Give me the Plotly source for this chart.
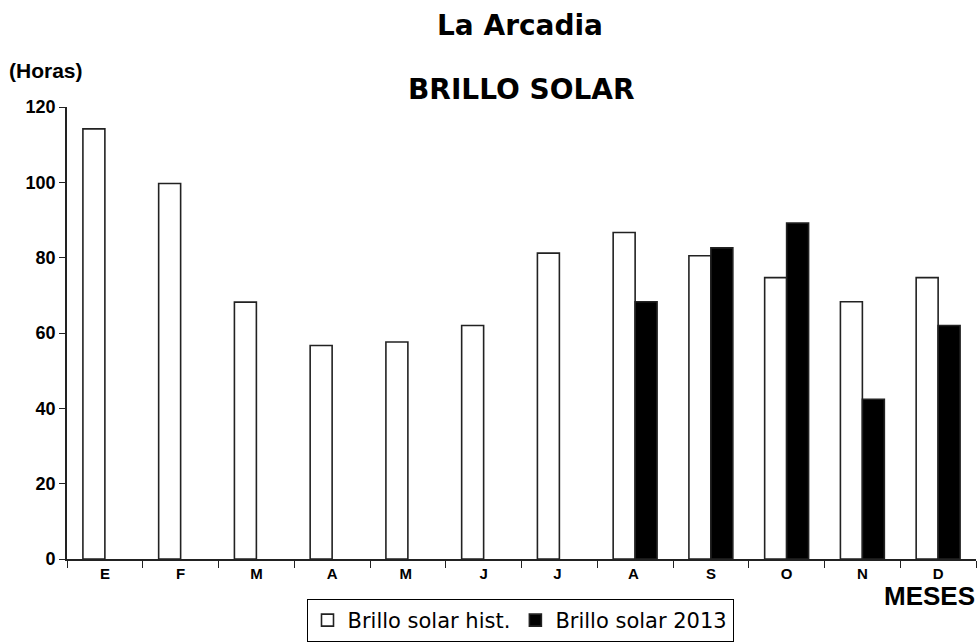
import plotly.graph_objects as go

months = ["E", "F", "M", "A", "M ", "J", "J ", "A ", "S", "O", "N", "D"]
hist = [114.2, 99.7, 68.2, 56.7, 57.6, 62.0, 81.2, 86.7, 80.5, 74.7, 68.3, 74.7]
y2013 = [None, None, None, None, None, None, None, 68.3, 82.6, 89.2, 42.4, 62.0]
y_ticks = [0, 20, 40, 60, 80, 100, 120]

ARIAL = "Liberation Sans, Arial, sans-serif"
WIDE = "DejaVu Sans, Verdana, sans-serif"

W, H = 980, 643
ML, MR, MT, MB = 67, 4, 107, 84

fig = go.Figure()
fig.add_trace(go.Bar(x=months, y=hist, name="Brillo solar hist.",
                     marker=dict(color="white", line=dict(color="#222", width=1.6))))
fig.add_trace(go.Bar(x=months, y=y2013, name="Brillo solar 2013",
                     marker=dict(color="black", line=dict(color="#222", width=1.6))))

fig.update_layout(
    width=W, height=H,
    margin=dict(l=ML, r=MR, t=MT, b=MB, autoexpand=False),
    paper_bgcolor="white", plot_bgcolor="white",
    barmode="group", bargap=0.42, bargroupgap=0,
    font=dict(family=ARIAL, color="black"),
    showlegend=True,
    legend=dict(orientation="h", xref="container", yref="container",
                x=520 / W, xanchor="center", y=(H - 599) / H, yanchor="top",
                bordercolor="black", borderwidth=1,
                font=dict(size=21, family=WIDE, color="black"),
                traceorder="normal", tracegroupgap=0),
    xaxis=dict(type="category", tickson="boundaries", ticks="outside", ticklen=7,
               tickcolor="#222", tickwidth=1.3, showline=True, linecolor="#222", linewidth=1.6,
               showgrid=False, tickfont=dict(size=15, family=ARIAL, weight="bold")),
    yaxis=dict(range=[0, 120], tickvals=y_ticks, ticks="outside", ticklen=6,
               tickcolor="#222", tickwidth=1.3, showline=True, linecolor="#222", linewidth=1.6,
               showgrid=False, zeroline=False,
               tickfont=dict(size=18, family=ARIAL, weight="bold")),
)

ph = H - MT - MB
pw = W - ML - MR
def py(ypix):
    return (H - MB - ypix) / ph
def px(xpix):
    return (xpix - ML) / pw

fig.add_annotation(text="<b>La Arcadia</b>", xref="paper", yref="paper", x=px(520), y=py(25),
                   showarrow=False, font=dict(size=28, family=WIDE), xanchor="center", yanchor="middle")
fig.add_annotation(text="<b>BRILLO SOLAR</b>", xref="paper", yref="paper", x=px(521), y=py(89),
                   showarrow=False, font=dict(size=28, family=WIDE), xanchor="center", yanchor="middle")
fig.add_annotation(text="<b>(Horas)</b>", xref="paper", yref="paper", x=px(7), y=py(70),
                   showarrow=False, font=dict(size=21, family=ARIAL), xanchor="left", yanchor="middle")
fig.add_annotation(text="<b>MESES</b>", xref="paper", yref="paper", x=px(977), y=py(596),
                   showarrow=False, font=dict(size=26, family=ARIAL), xanchor="right", yanchor="middle")

fig.write_html("out.html", config={"displayModeBar": False},
               post_script="document.body.style.margin='0';document.body.style.overflow='hidden';")
